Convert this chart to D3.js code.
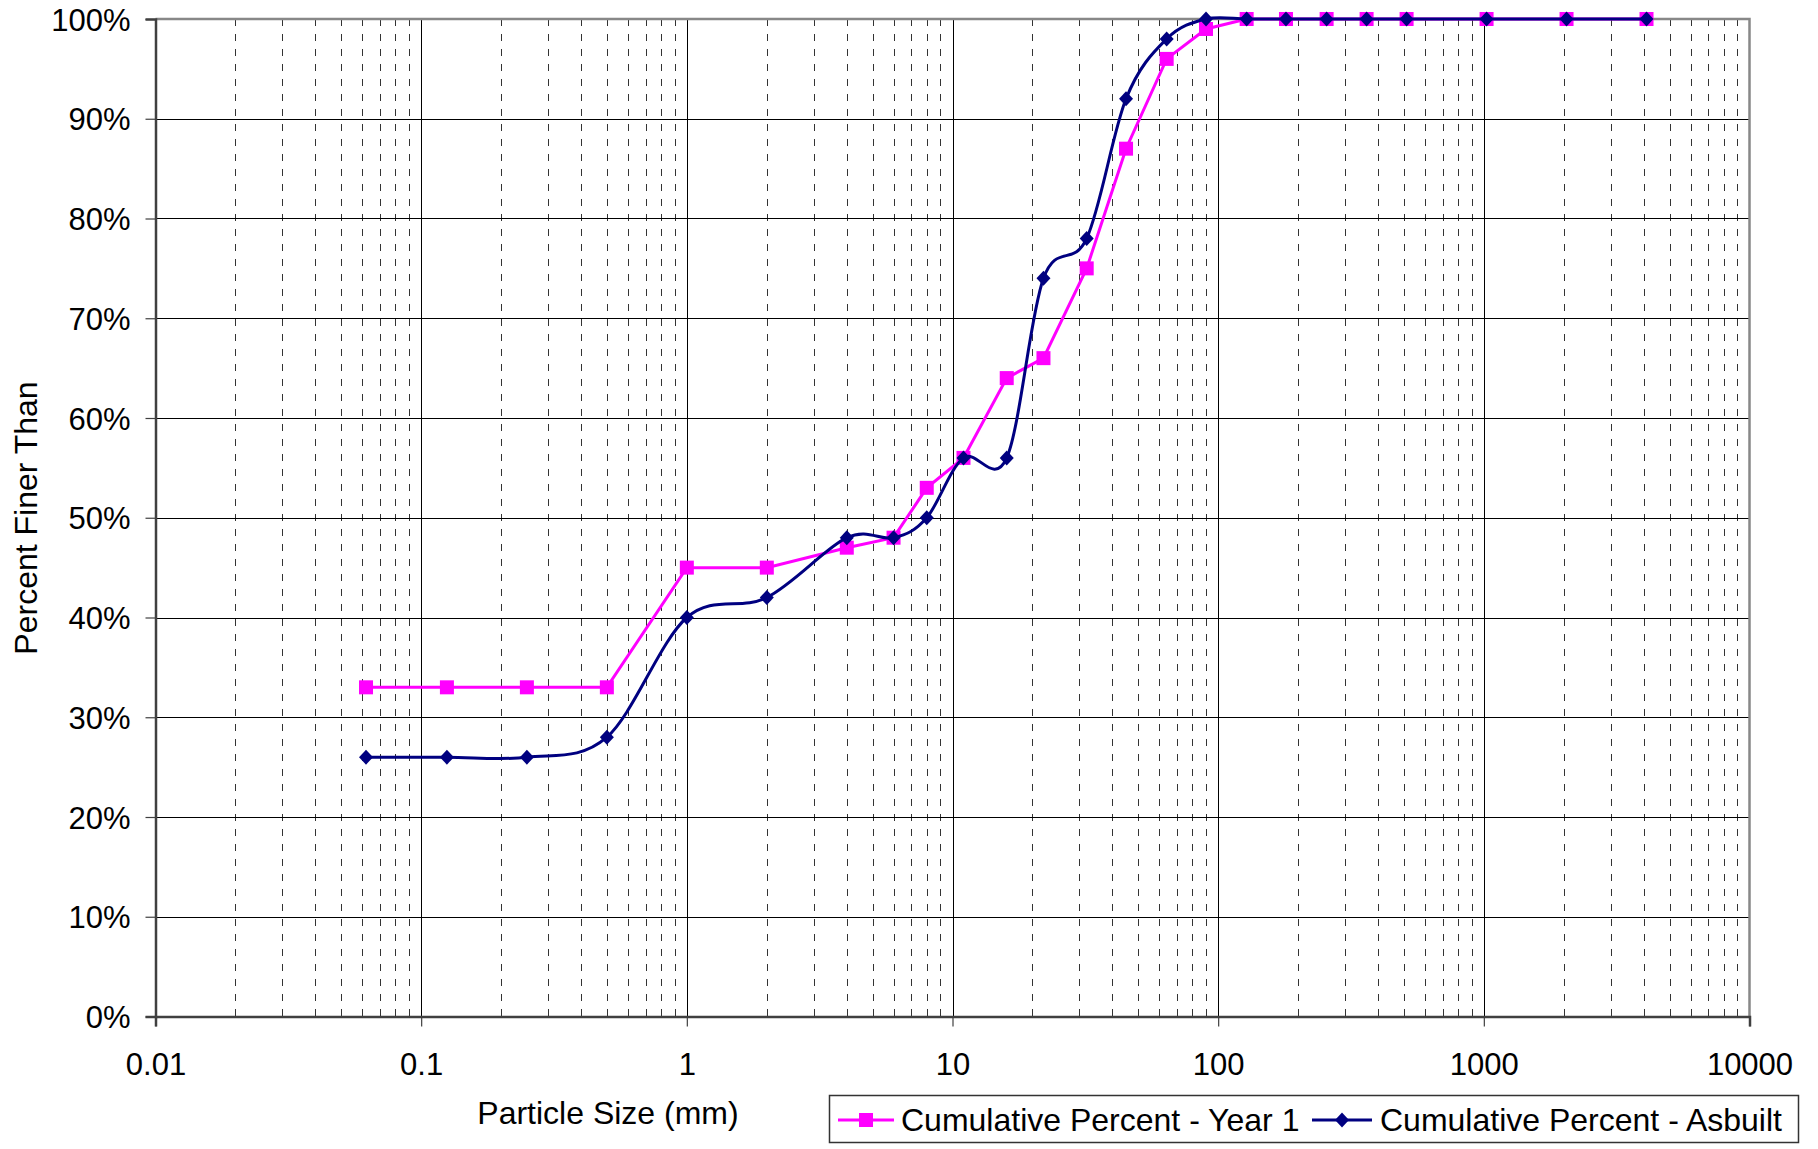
<!DOCTYPE html>
<html>
<head>
<meta charset="utf-8">
<script src="https://cdn.jsdelivr.net/npm/d3@7"></script>
<style>
html,body{margin:0;padding:0;background:#fff;}
svg{display:block;}
text{font-family:"Liberation Sans",Arial,sans-serif;fill:#000;}
</style>
</head>
<body>
<svg id="chart" width="1818" height="1149"></svg>
<script>
// ---- data ----
const sizesYear1 = [0.062, 0.125, 0.25, 0.5, 1, 2, 4, 6, 8, 11, 16, 22, 32, 45, 64, 90, 128, 180, 256, 362, 512, 1024, 2048, 4096];
const year1 = [33, 33, 33, 33, 45, 45, 47, 48, 53, 56, 64, 66, 75, 87, 96, 99, 100, 100, 100, 100, 100, 100, 100, 100];
const sizesAsbuilt = [0.062, 0.125, 0.25, 0.5, 1, 2, 4, 6, 8, 11, 16, 22, 32, 45, 64, 90, 128, 180, 256, 362, 512, 1024, 2048, 4096];
const asbuilt = [26, 26, 26, 28, 40, 42, 48, 48, 50, 56, 56, 74, 78, 92, 98, 100, 100, 100, 100, 100, 100, 100, 100, 100];
const xTicks = [0.01, 0.1, 1, 10, 100, 1000, 10000];
const yTicks = [0, 10, 20, 30, 40, 50, 60, 70, 80, 90, 100];
const seriesNames = ["Cumulative Percent - Year 1", "Cumulative Percent - Asbuilt"];

// ---- layout ----
const L = 155.5, R = 1749.5, T = 19, B = 1016.5;
const FS = 31, FT = 32;
const svg = d3.select("#chart");
svg.append("rect").attr("width",1818).attr("height",1149).attr("fill","#fff");

const x = d3.scaleLog().domain([0.01, 10000]).range([L, R]);
const y = d3.scaleLinear().domain([0, 100]).range([B, T]);

// minor vertical grid (dashed)
const minor = [];
xTicks.slice(0, -1).forEach(d => { for (let k = 2; k <= 9; k++) minor.push(+(d * k).toPrecision(3)); });
svg.append("g").selectAll("line").data(minor).join("line")
  .attr("x1", d => Math.round(x(d)) + 0.5).attr("x2", d => Math.round(x(d)) + 0.5)
  .attr("y1", T).attr("y2", B)
  .attr("stroke", "#333").attr("stroke-width", 1).attr("stroke-dasharray", "7,8");

// major vertical grid
svg.append("g").selectAll("line").data(xTicks.slice(1, -1)).join("line")
  .attr("x1", d => Math.round(x(d)) + 0.5).attr("x2", d => Math.round(x(d)) + 0.5)
  .attr("y1", T).attr("y2", B)
  .attr("stroke", "#000").attr("stroke-width", 1);

// horizontal grid
svg.append("g").selectAll("line").data(yTicks.slice(1, -1)).join("line")
  .attr("x1", L).attr("x2", R)
  .attr("y1", d => Math.round(y(d)) + 0.5).attr("y2", d => Math.round(y(d)) + 0.5)
  .attr("stroke", "#000").attr("stroke-width", 1);

// top and right border (gray)
svg.append("path")
  .attr("d", `M${L},${T}H${R}V${B}`)
  .attr("fill", "none").attr("stroke", "#888").attr("stroke-width", 2.5);

// axes
const yAxis = d3.axisLeft(y).tickValues(yTicks).tickSize(10).tickPadding(15).tickFormat(d => d + "%");
const gy = svg.append("g").attr("transform", `translate(${L},0)`).call(yAxis);
gy.select(".domain").attr("stroke", "#404040").attr("stroke-width", 2.5);
gy.selectAll(".tick line").attr("stroke", "#404040").attr("stroke-width", 1.2);
gy.selectAll(".tick text").attr("font-size", FS).attr("font-family", "Liberation Sans, Arial, sans-serif").attr("fill", "#000").attr("dy", "0.36em");

const xAxis = d3.axisBottom(x).tickValues(xTicks).tickSize(10).tickPadding(26).tickFormat(d => String(d));
const gx = svg.append("g").attr("transform", `translate(0,${B})`).call(xAxis);
gx.select(".domain").attr("stroke", "#404040").attr("stroke-width", 2.5);
gx.selectAll(".tick line").attr("stroke", "#404040").attr("stroke-width", 1.2);
gx.selectAll(".tick text").attr("font-size", FS).attr("font-family", "Liberation Sans, Arial, sans-serif").attr("fill", "#000");

// axis titles
svg.append("text").attr("x", 608).attr("y", 1124).attr("text-anchor", "middle")
  .attr("font-size", FT).text("Particle Size (mm)");
svg.append("text").attr("transform", "translate(37,518) rotate(-90)").attr("text-anchor", "middle")
  .attr("font-size", FT).text("Percent Finer Than");

// series
const mag = "#FF00FF", navy = "#000080";
const d1 = sizesYear1.map((s, i) => [s, year1[i]]);
const d2 = sizesAsbuilt.map((s, i) => [s, asbuilt[i]]);

svg.append("path").datum(d1)
  .attr("d", d3.line().x(d => x(d[0])).y(d => y(d[1])))
  .attr("fill", "none").attr("stroke", mag).attr("stroke-width", 3);
svg.append("g").selectAll("rect").data(d1).join("rect")
  .attr("x", d => x(d[0]) - 7).attr("y", d => y(d[1]) - 7)
  .attr("width", 14).attr("height", 14).attr("fill", mag);

svg.append("path").datum(d2)
  .attr("d", d3.line().x(d => x(d[0])).y(d => y(d[1])).curve(d3.curveCardinal.tension(0)))
  .attr("fill", "none").attr("stroke", navy).attr("stroke-width", 3);
const diamond = "M0,-7.5L7,0L0,7.5L-7,0Z";
svg.append("g").selectAll("path").data(d2).join("path")
  .attr("transform", d => `translate(${x(d[0])},${y(d[1])})`)
  .attr("d", diamond).attr("fill", navy);

// legend
const lg = svg.append("g");
lg.append("rect").attr("x", 829.5).attr("y", 1095.5).attr("width", 969).attr("height", 47)
  .attr("fill", "#fff").attr("stroke", "#333").attr("stroke-width", 1.5);
const ly = 1120;
lg.append("line").attr("x1", 838).attr("x2", 894).attr("y1", ly).attr("y2", ly).attr("stroke", mag).attr("stroke-width", 3);
lg.append("rect").attr("x", 866 - 7).attr("y", ly - 7).attr("width", 14).attr("height", 14).attr("fill", mag);
lg.append("text").attr("x", 901).attr("y", ly + 11).attr("font-size", FT).text(seriesNames[0]);
lg.append("line").attr("x1", 1312).attr("x2", 1372).attr("y1", ly).attr("y2", ly).attr("stroke", navy).attr("stroke-width", 3);
lg.append("path").attr("transform", `translate(1342,${ly})`).attr("d", diamond).attr("fill", navy);
lg.append("text").attr("x", 1380).attr("y", ly + 11).attr("font-size", FT).text(seriesNames[1]);
</script>
</body>
</html>
